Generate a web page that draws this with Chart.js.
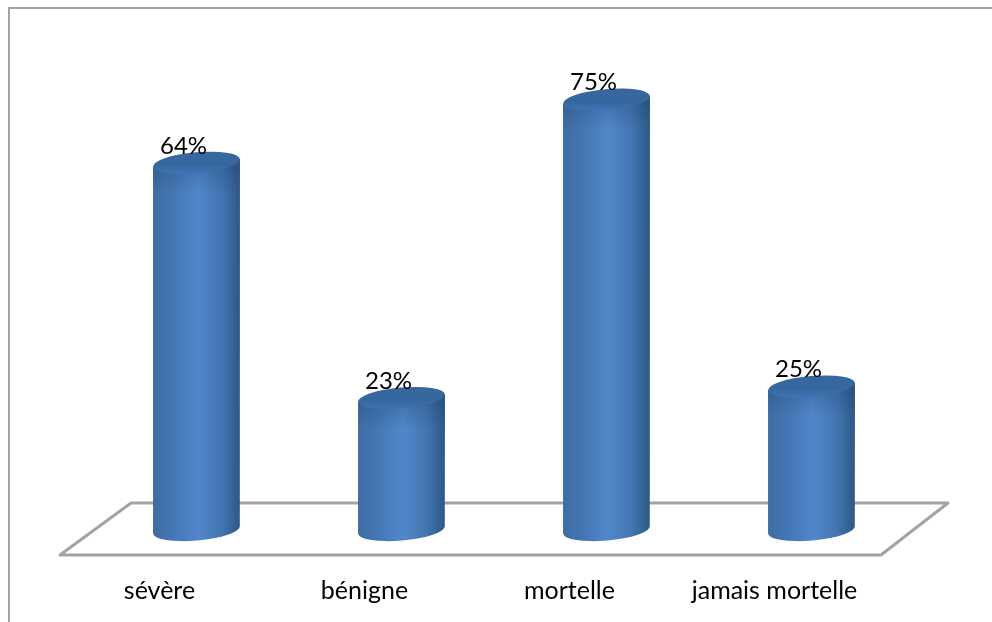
<!DOCTYPE html>
<html>
<head>
<meta charset="utf-8">
<style>
  html, body { margin: 0; padding: 0; background: #fff; }
  #wrap { width: 992px; height: 622px; }
</style>
<script src="https://cdn.jsdelivr.net/npm/chart.js@4"></script>
</head>
<body>
<div id="wrap"><canvas id="chart" width="992" height="622"></canvas></div>
<script>
const categories = ['sévère', 'bénigne', 'mortelle', 'jamais mortelle'];
const percentValues = [64, 23, 75, 25];

const tilt = -5 * Math.PI / 180;
const ellipseRy = 10.5;

// cadre gris en haut et a gauche
const framePlugin = {
  id: 'frame',
  beforeDraw(chart) {
    const ctx = chart.ctx;
    ctx.save();
    ctx.strokeStyle = '#a3a3a3';
    ctx.lineWidth = 2;
    ctx.beginPath();
    ctx.moveTo(9, chart.height);
    ctx.lineTo(9, 8);
    ctx.lineTo(chart.width, 8);
    ctx.stroke();
    ctx.restore();
  }
};

// plancher 3D sous les barres
const floorPlugin = {
  id: 'floor',
  beforeDatasetsDraw(chart) {
    const ctx = chart.ctx;
    const area = chart.chartArea;
    const base = area.bottom;
    ctx.save();
    ctx.strokeStyle = '#a3a3a3';
    ctx.lineWidth = 3;
    ctx.lineJoin = 'round';
    ctx.beginPath();
    ctx.moveTo(area.left + 37, base - 27);
    ctx.lineTo(area.right + 34, base - 27);
    ctx.lineTo(area.right - 33, base + 25);
    ctx.lineTo(area.left - 34, base + 25);
    ctx.closePath();
    ctx.stroke();
    ctx.restore();
  }
};

function sideGradient(ctx, x, w) {
  const g = ctx.createLinearGradient(x - w / 2, 0, x + w / 2, 0);
  g.addColorStop(0, '#3f6da3');
  g.addColorStop(0.2, '#4375b2');
  g.addColorStop(0.52, '#5187ca');
  g.addColorStop(0.8, '#4274b0');
  g.addColorStop(0.95, '#325f91');
  g.addColorStop(1, '#2f5885');
  return g;
}

// chaque barre devient un cylindre, a partir de la position donnee par Chart.js
const cylinderPlugin = {
  id: 'cylinder',
  beforeDatasetDraw(chart, args) {
    const ctx = chart.ctx;
    args.meta.data.forEach((bar) => {
      const { x, y, base, width } = bar.getProps(['x', 'y', 'base', 'width']);
      const rx = width / 2;
      const dy = Math.sin(tilt) * rx;

      ctx.save();
      ctx.filter = 'blur(0.6px)';
      ctx.fillStyle = sideGradient(ctx, x, width);
      ctx.beginPath();
      ctx.moveTo(x - rx, y - dy);
      ctx.lineTo(x - rx, base - dy);
      ctx.ellipse(x, base, rx, ellipseRy, tilt, Math.PI, 0, true);
      ctx.lineTo(x + rx, y + dy);
      ctx.closePath();
      ctx.fill();

      // ombre legere sous le couvercle
      const shade = ctx.createLinearGradient(0, y, 0, y + 30);
      shade.addColorStop(0, 'rgba(30,60,100,0.3)');
      shade.addColorStop(1, 'rgba(30,60,100,0)');
      ctx.fillStyle = shade;
      ctx.beginPath();
      ctx.moveTo(x - rx, y - dy);
      ctx.lineTo(x - rx, y + 40);
      ctx.lineTo(x + rx, y + 40);
      ctx.lineTo(x + rx, y + dy);
      ctx.closePath();
      ctx.fill();

      const top = ctx.createLinearGradient(0, y - ellipseRy, 0, y + ellipseRy);
      top.addColorStop(0, '#38689e');
      top.addColorStop(0.6, '#35669e');
      top.addColorStop(1, '#3f74b2');
      ctx.fillStyle = top;
      ctx.beginPath();
      ctx.ellipse(x, y, rx, ellipseRy, tilt, 0, Math.PI * 2);
      ctx.fill();
      ctx.restore();
    });
    return false;
  }
};

const valueLabelPlugin = {
  id: 'valueLabels',
  afterDatasetsDraw(chart) {
    const ctx = chart.ctx;
    const meta = chart.getDatasetMeta(0);
    ctx.save();
    ctx.font = '24px Lato';
    ctx.fillStyle = '#000';
    ctx.textAlign = 'center';
    ctx.textBaseline = 'middle';
    meta.data.forEach((bar, i) => {
      ctx.fillText(percentValues[i] + '%', bar.x - 13, bar.y - 17);
    });
    ctx.restore();
  }
};

new Chart(document.getElementById('chart'), {
  type: 'bar',
  data: {
    labels: categories,
    datasets: [{
      data: percentValues,
      backgroundColor: '#4a7ebb',
      categoryPercentage: 1,
      barPercentage: 0.424
    }]
  },
  options: {
    responsive: false,
    animation: false,
    layout: { padding: { left: 94, right: 78, top: 71, bottom: 0 } },
    plugins: { legend: { display: false }, tooltip: { enabled: false } },
    scales: {
      x: {
        grid: { display: false },
        border: { display: false },
        afterFit(scale) { scale.height = 92; },
        ticks: { color: '#000', padding: 38, labelOffset: -37, maxRotation: 0, font: { family: 'Lato', size: 25 } }
      },
      y: { display: false, min: 0, max: 80 }
    }
  },
  plugins: [framePlugin, floorPlugin, cylinderPlugin, valueLabelPlugin]
});
</script>
</body>
</html>
